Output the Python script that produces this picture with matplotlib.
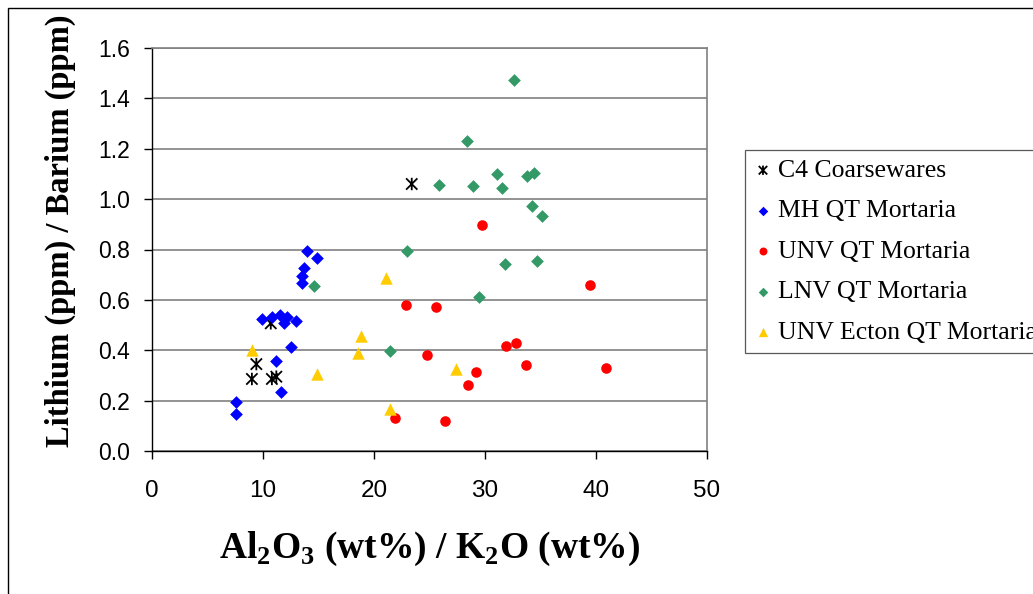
import numpy as np
import matplotlib
matplotlib.use("Agg")
import matplotlib.pyplot as plt
from matplotlib.path import Path
from matplotlib.patches import Rectangle
from matplotlib.ticker import FormatStrFormatter

# Al2O3/K2O ratio (x) and Li/Ba ratio (y) for each fabric group
c4_x = [10.7, 9.4, 9.0, 10.8, 11.2, 23.4]
c4_y = [0.507, 0.345, 0.286, 0.286, 0.295, 1.06]

mh_x = [14.0, 14.9, 13.7, 13.5, 13.5, 9.9, 10.8, 11.5, 11.9, 12.2, 13.0,
        12.5, 11.2, 11.6, 7.6, 7.6]
mh_y = [0.794, 0.766, 0.728, 0.696, 0.666, 0.524, 0.533, 0.541, 0.507,
        0.533, 0.516, 0.413, 0.357, 0.234, 0.196, 0.148]

unv_x = [29.7, 39.5, 22.9, 25.6, 31.9, 32.8, 24.8, 33.7, 40.9, 29.2, 28.5,
         21.9, 26.4]
unv_y = [0.897, 0.659, 0.580, 0.573, 0.417, 0.427, 0.382, 0.343, 0.328,
         0.315, 0.263, 0.131, 0.119]

lnv_x = [14.6, 32.6, 28.4, 25.9, 28.9, 31.1, 31.5, 33.8, 34.4, 34.2, 35.1,
         23.0, 31.8, 34.7, 29.5, 21.4]
lnv_y = [0.655, 1.473, 1.231, 1.057, 1.052, 1.098, 1.045, 1.092, 1.105,
         0.974, 0.934, 0.794, 0.742, 0.756, 0.610, 0.398]

ecton_x = [21.1, 18.8, 18.6, 27.4, 21.4, 9.0, 14.9]
ecton_y = [0.687, 0.458, 0.390, 0.325, 0.167, 0.401, 0.306]

plt.rcParams["mathtext.fontset"] = "custom"
plt.rcParams["mathtext.rm"] = "Liberation Serif:bold"
plt.rcParams["mathtext.bf"] = "Liberation Serif:bold"

# Excel-style star: an X with a vertical bar through it
star = Path(
    [(-1, -1), (1, 1), (-1, 1), (1, -1), (0, -1.1), (0, 1.1)],
    [Path.MOVETO, Path.LINETO, Path.MOVETO, Path.LINETO, Path.MOVETO, Path.LINETO],
)

fig = plt.figure(figsize=(10.33, 5.94), dpi=100)
ax = fig.add_axes([152 / 1033, 1 - 451 / 594, 555 / 1033, 403 / 594])

ax.scatter(c4_x, c4_y, marker=star, s=80, facecolors="none", edgecolors="black",
           linewidths=1.3, label="C4 Coarsewares", zorder=3)
ax.scatter(mh_x, mh_y, marker="D", s=42, color="#0000FF", linewidths=0,
           label="MH QT Mortaria", zorder=3)
ax.scatter(unv_x, unv_y, marker="o", s=58, color="#FF0000", linewidths=0,
           label="UNV QT Mortaria", zorder=3)
ax.scatter(lnv_x, lnv_y, marker="D", s=42, color="#339966", linewidths=0,
           label="LNV QT Mortaria", zorder=3)
ax.scatter(ecton_x, ecton_y, marker="^", s=80, color="#FFCC00", linewidths=0,
           label="UNV Ecton QT Mortaria", zorder=3)

ax.set_xlim(0, 50)
ax.set_ylim(0, 1.6)
ax.set_xticks(np.arange(0, 51, 10))
ax.set_yticks(np.arange(0, 1.61, 0.2))
ax.yaxis.set_major_formatter(FormatStrFormatter("%.1f"))
ax.yaxis.grid(True, color="#808080", linewidth=1.2)
ax.set_axisbelow(True)

for side in ["top", "right"]:
    ax.spines[side].set_color("#808080")
    ax.spines[side].set_linewidth(1.2)
for side in ["left", "bottom"]:
    ax.spines[side].set_color("black")
    ax.spines[side].set_linewidth(1.0)

ax.tick_params(direction="out", length=6, width=1, color="black")
ax.tick_params(axis="y", pad=10)
ax.tick_params(axis="x", pad=15)
for lab in ax.get_yticklabels():
    lab.set_fontfamily("Liberation Sans")
    lab.set_fontsize(16.5)
for lab in ax.get_xticklabels():
    lab.set_fontfamily("Liberation Sans")
    lab.set_fontsize(17.5)

ax.set_xlabel(r"Al$_\mathregular{2}$O$_\mathregular{3}$ (wt%) / K$_\mathregular{2}$O (wt%)",
              fontfamily="Liberation Serif", fontweight="bold", fontsize=27,
              labelpad=20)
ax.set_ylabel("Lithium (ppm) / Barium (ppm)", fontfamily="Liberation Serif",
              fontweight="bold", fontsize=23.5)
ax.yaxis.set_label_coords(-0.137, (451 - 231) / 403)

# legend box runs past the right edge of the figure
leg = fig.legend(loc="upper left", bbox_to_anchor=(745 / 1033, 1 - 150 / 594),
                 prop={"family": "Liberation Serif", "size": 18.5},
                 frameon=True, fancybox=False, edgecolor="#303030",
                 borderpad=0.35, labelspacing=0.68, handletextpad=0.25,
                 handlelength=0.7, borderaxespad=0, markerscale=0.75)
leg.get_frame().set_linewidth(0.9)

# outer chart-area border, running off the right and bottom edges
fig.patches.append(Rectangle((8 / 1033, -0.1), 1.2, 1 - 8 / 594 + 0.1,
                             transform=fig.transFigure, fill=False,
                             edgecolor="black", linewidth=1.0))

fig.savefig("out.png", dpi=100)
